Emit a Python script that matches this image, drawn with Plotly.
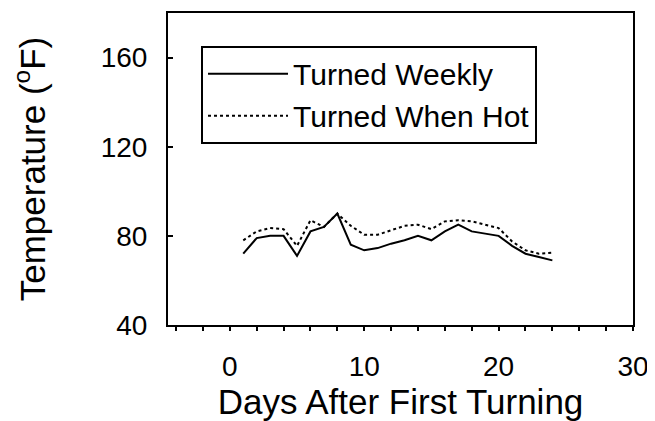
import plotly.graph_objects as go

days = list(range(1, 25))
weekly = [72, 79, 80, 80, 71, 82, 84, 90, 76, 73.5, 74.5, 76.5, 78, 80, 78, 82,
          85, 82, 81, 80, 75.5, 72, 70.5, 69]
when_hot = [78, 82, 83.5, 83, 75.5, 87, 84, 90, 84.5, 80.5, 80.5, 82.5, 84.5, 85,
            83, 86.5, 87, 86.5, 85, 83.5, 77.5, 73.5, 72, 72.5]
series_names = ["Turned Weekly", "Turned When Hot"]
x_ticks = [0, 10, 20, 30]
y_ticks = [40, 80, 120, 160]

FONT = "Arial, Liberation Sans, sans-serif"

fig = go.Figure()
fig.add_trace(go.Scatter(x=days, y=weekly, mode="lines", name=series_names[0],
                         line=dict(color="black", width=2, dash="solid")))
fig.add_trace(go.Scatter(x=days, y=when_hot, mode="lines", name=series_names[1],
                         line=dict(color="black", width=2, dash="dot")))

fig.update_layout(
    width=655, height=421,
    margin=dict(l=160, r=30, t=5, b=104),
    plot_bgcolor="white", paper_bgcolor="white",
    font=dict(family=FONT, size=29, color="black"),
    showlegend=True,
    legend=dict(x=0.071, y=0.895, xanchor="left", yanchor="top",
                bordercolor="black", borderwidth=2, bgcolor="white",
                font=dict(size=30), itemwidth=80, tracegroupgap=0),
    xaxis=dict(range=[-4.6, 30], tickvals=x_ticks, ticks="outside", ticklen=4,
               tickwidth=2, tickcolor="black", tickfont=dict(size=28),
               minor=dict(dtick=2, tick0=0, ticks="outside", ticklen=4,
                          tickwidth=2, tickcolor="black"),
               showline=True, linecolor="black", linewidth=2, mirror=True,
               showgrid=False, zeroline=False, ticklabelstandoff=11,
               automargin=False,
               title=dict(text="Days After First Turning", standoff=7)),
    yaxis=dict(range=[40, 180], tickvals=y_ticks, ticks="inside", ticklen=5,
               tickwidth=2, tickcolor="black", tickfont=dict(size=28),
               showline=True, linecolor="black", linewidth=2, mirror=True,
               showgrid=False, zeroline=False, ticklabelstandoff=13,
               automargin=False,
               title=dict(text="Temperature (<sup>o</sup>F)", standoff=48)),
)

fig.write_html("out.html")
